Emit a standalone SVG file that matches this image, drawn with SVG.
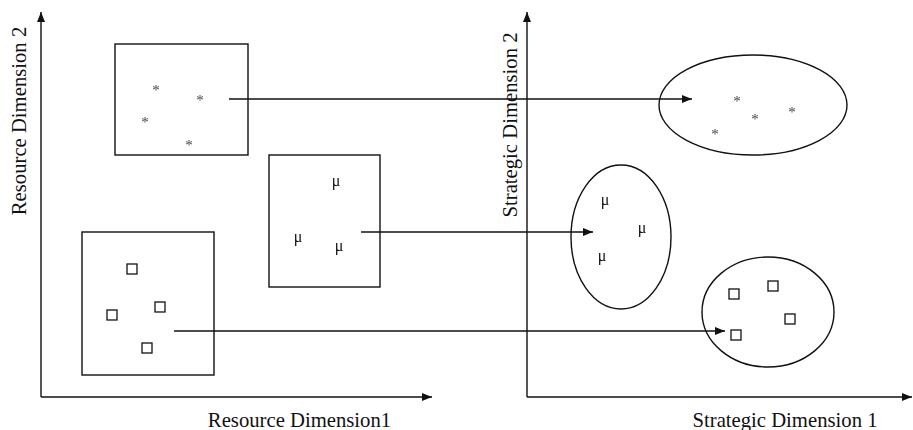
<svg xmlns="http://www.w3.org/2000/svg" width="913" height="430" viewBox="0 0 913 430">
<style>
.ln{stroke:#111;stroke-width:1.4;fill:none}
.box{stroke:#111;stroke-width:1.4;fill:none}
.sq{stroke:#111;stroke-width:1.3;fill:none}
.lbl{font-family:"Liberation Serif","Times New Roman",serif;font-size:20.7px;fill:#111}
.ast{font-family:"Liberation Serif","Times New Roman",serif;font-size:15px;fill:#444;text-anchor:middle;filter:url(#gs)}
.mu{font-family:"Liberation Serif","Times New Roman",serif;font-size:16px;fill:#111;text-anchor:middle;filter:url(#gs)}
</style>
<defs>
<filter id="gs" x="-50%" y="-50%" width="200%" height="200%"><feOffset dx="0" dy="0"/></filter>
<marker id="ah" markerWidth="10" markerHeight="8" refX="10" refY="4" orient="auto" markerUnits="userSpaceOnUse">
<path d="M0,0 L10,4 L0,8 Z" fill="#111"/>
</marker>
</defs>
<rect width="913" height="430" fill="#fff"/>
<g id="axes">
<line class="ln" x1="41" y1="397" x2="41" y2="12" marker-end="url(#ah)"/>
<line class="ln" x1="41" y1="397" x2="432" y2="397" marker-end="url(#ah)"/>
<line class="ln" x1="527" y1="397" x2="527" y2="12" marker-end="url(#ah)"/>
<line class="ln" x1="527" y1="397" x2="912" y2="397" marker-end="url(#ah)"/>
<text class="lbl" x="299.5" y="427" text-anchor="middle">Resource Dimension1</text>
<text class="lbl" x="785" y="427" text-anchor="middle">Strategic Dimension 1</text>
<text class="lbl" text-anchor="middle" transform="translate(26,121) rotate(-90)">Resource Dimension 2</text>
<text class="lbl" text-anchor="middle" transform="translate(517,125) rotate(-90)">Strategic Dimension 2</text>
</g>
<g id="box-star">
<rect class="box" x="115" y="44" width="133" height="111"/>
<text class="ast" x="156" y="94.5">*</text>
<text class="ast" x="200" y="104.5">*</text>
<text class="ast" x="145" y="126.5">*</text>
<text class="ast" x="189" y="149.5">*</text>
</g>
<g id="box-mu">
<rect class="box" x="269" y="155" width="111" height="132"/>
<text class="mu" x="336" y="186">μ</text>
<text class="mu" x="298" y="242">μ</text>
<text class="mu" x="339" y="251">μ</text>
</g>
<g id="box-square">
<rect class="box" x="82" y="232" width="132" height="143"/>
<rect class="sq" x="127" y="264" width="10" height="10"/>
<rect class="sq" x="107" y="310" width="10" height="10"/>
<rect class="sq" x="155" y="302" width="10" height="10"/>
<rect class="sq" x="142" y="343" width="10" height="10"/>
</g>
<g id="ellipse-star">
<ellipse class="box" cx="753" cy="105" rx="94" ry="50"/>
<text class="ast" x="737" y="105.5">*</text>
<text class="ast" x="755" y="123.5">*</text>
<text class="ast" x="792" y="116.5">*</text>
<text class="ast" x="715" y="138.5">*</text>
</g>
<g id="ellipse-mu">
<ellipse class="box" cx="621" cy="237" rx="50" ry="72"/>
<text class="mu" x="605" y="205">μ</text>
<text class="mu" x="642" y="233">μ</text>
<text class="mu" x="602" y="261">μ</text>
</g>
<g id="ellipse-square">
<ellipse class="box" cx="768" cy="312" rx="66" ry="55"/>
<rect class="sq" x="729" y="289" width="10" height="10"/>
<rect class="sq" x="768" y="281" width="10" height="10"/>
<rect class="sq" x="785" y="314" width="10" height="10"/>
<rect class="sq" x="731" y="330" width="10" height="10"/>
</g>
<g id="connectors">
<line class="ln" x1="229" y1="99" x2="692" y2="99" marker-end="url(#ah)"/>
<line class="ln" x1="361" y1="232" x2="593" y2="232" marker-end="url(#ah)"/>
<line class="ln" x1="174" y1="331" x2="725" y2="331" marker-end="url(#ah)"/>
</g>
</svg>
